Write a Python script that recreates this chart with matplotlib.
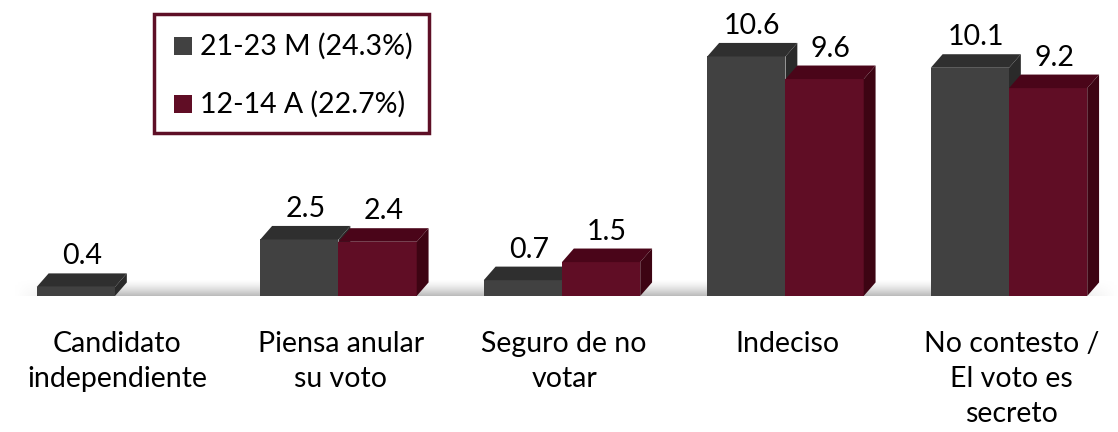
import numpy as np
import matplotlib.pyplot as plt
from matplotlib.patches import Polygon, Rectangle

categories = ['Candidato\nindependiente', 'Piensa anular\nsu voto', 'Seguro de no\nvotar',
              'Indeciso', 'No contesto /\nEl voto es\nsecreto']
series_names = ['21-23 M (24.3%)', '12-14 A (22.7%)']
may_vals = [0.4, 2.5, 0.7, 10.6, 10.1]
apr_vals = [np.nan, 2.4, 1.5, 9.6, 9.2]

faces = [('#414141', '#2f2f2f', '#2a2a2a'),
         ('#600d25', '#4a0519', '#3d0413')]

plt.rcParams['font.family'] = ['Lato', 'DejaVu Sans']

fig = plt.figure(figsize=(11.18, 4.32), dpi=100)
ax = fig.add_axes([0, 0, 1, 1])
ax.set_xlim(-0.5145, 4.4877)
ax.set_ylim(-6.02, 13.1)
ax.axis('off')

w = 0.35
dx, dy = 0.053, 0.6
fs = 20.5

# floor shadow
grad = np.linspace(0, 1, 50)[:, None] * np.ones((1, 400))
edge = np.minimum(1, np.minimum(np.linspace(0, 1, 400), np.linspace(1, 0, 400)) * 12)
grad = grad * edge[None, :]
ax.imshow(grad, extent=(-0.45, 4.49, 0.0, 0.7), origin='upper', cmap='Greys',
          vmin=0, vmax=2.6, aspect='auto', zorder=1)

for s, vals in enumerate([may_vals, apr_vals]):
    front, top, side = faces[s]
    for i, v in enumerate(vals):
        if np.isnan(v):
            continue
        x0 = i - w + s * w
        x1 = x0 + w
        ax.add_patch(Rectangle((x0, 0), w, v, fc=front, ec='none', zorder=3))
        ax.add_patch(Polygon([(x0, v), (x1, v), (x1 + dx, v + dy), (x0 + dx, v + dy)],
                             closed=True, fc=top, ec='none', zorder=3))
        ax.add_patch(Polygon([(x1, 0), (x1 + dx, dy), (x1 + dx, v + dy), (x1, v)],
                             closed=True, fc=side, ec='none', zorder=3))
        ax.text((x0 + x1) / 2 + dx / 2, v + dy + 0.75, f'{v:.1f}', ha='center',
                va='center', fontsize=fs, zorder=4)

for i, c in enumerate(categories):
    ax.text(i + 0.01, -1.55, c, ha='center', va='top', fontsize=fs, linespacing=1.42)

# legend box
lx0, lx1 = 0.175, 1.405
ly0, ly1 = 7.2, 12.5
ax.add_patch(Rectangle((lx0, ly0), lx1 - lx0, ly1 - ly0, fc='white', ec='#5e0f26',
                       lw=2.5, zorder=5))
for k, name in enumerate(series_names):
    yy = 11.05 - k * 2.55
    ax.add_patch(Rectangle((0.264, yy - 0.4), 0.08, 0.8, fc=faces[k][0], ec='none', zorder=6))
    ax.text(0.38, yy, name, ha='left', va='center', fontsize=fs, zorder=6)

fig.savefig('out.png', dpi=100)
